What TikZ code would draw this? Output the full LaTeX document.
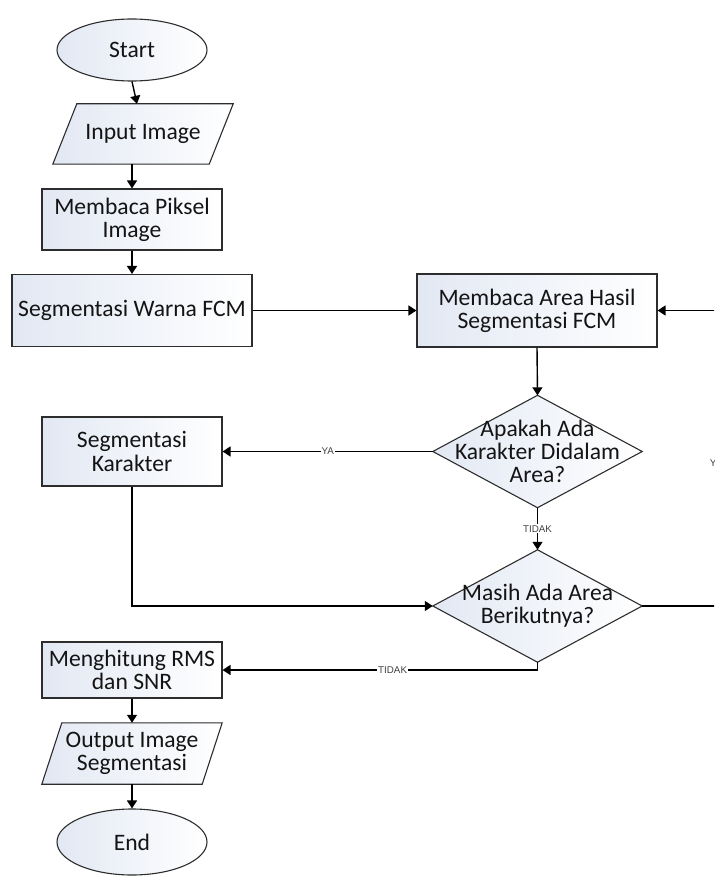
\documentclass[tikz,border=0pt]{standalone}
\usepackage{fontspec}
\setmainfont{Carlito}
\newfontfamily\lblfont{Liberation Sans}
\usetikzlibrary{arrows.meta,backgrounds,shapes.geometric}
\definecolor{fillc}{RGB}{226,232,243}
\definecolor{boxc}{RGB}{45,45,45}
\begin{document}
\begin{tikzpicture}[x=1pt,y=-1pt,
  txt/.style={align=center, font=\fontsize{23.6}{23.3}\selectfont, text=black!92, inner sep=0pt},
  shp/.style={draw=boxc, line width=1.1pt, left color=fillc, right color=white},
  proc/.style={txt, shp, rectangle},
  term/.style={txt, shp, ellipse},
  ghost/.style={txt, rectangle},
  arr/.style={line width=1.4pt, -{Triangle[length=8pt,width=10pt]}},
  lbl/.style={font=\lblfont\fontsize{9.8}{10}\selectfont, text=black!75, fill=white, inner sep=1pt}]
\useasboundingbox (0,0) rectangle (714,877);
\clip (0,0) rectangle (714,877);

% nodes
\node[term, minimum width=150pt, minimum height=62pt] (start) at (132,50) {Start};
\node[ghost, minimum width=156pt, minimum height=60pt] (inp) at (143,134) {Input Image};
\node[proc, minimum width=180pt, minimum height=61pt] (pix) at (132,219.5) {Membaca Piksel\\Image};
\node[proc, minimum width=240pt, minimum height=72pt] (seg) at (132,310.5) {Segmentasi Warna FCM};
\node[proc, minimum width=240pt, minimum height=73pt] (area) at (537,310.5) {Membaca Area Hasil\\Segmentasi FCM};
\node[ghost, minimum width=209pt, minimum height=112pt] (d1) at (537.5,451.5) {Apakah Ada\\Karakter Didalam\\Area?};
\node[proc, minimum width=180pt, minimum height=69pt] (kar) at (132,451.5) {Segmentasi\\Karakter};
\node[ghost, minimum width=209pt, minimum height=112pt] (d2) at (537.5,606) {Masih Ada Area\\Berikutnya?};
\node[proc, minimum width=180pt, minimum height=56pt] (rms) at (132,670) {Menghitung RMS\\dan SNR};
\node[ghost, minimum width=160pt, minimum height=61pt] (out) at (132,753.5) {Output Image\\Segmentasi};
\node[term, minimum width=150pt, minimum height=66pt] (end) at (132,842) {End};
\coordinate (rt) at (716,310.5);

\begin{scope}[on background layer]
  \path[shp] ([xshift=-12pt]inp.south west) -- ([xshift=-12pt]inp.south east)
     -- ([xshift=12pt]inp.north east) -- ([xshift=12pt]inp.north west) -- cycle;
  \path[shp] ([xshift=-10pt]out.south west) -- ([xshift=-10pt]out.south east)
     -- ([xshift=10pt]out.north east) -- ([xshift=10pt]out.north west) -- cycle;
  \path[shp] (d1.north) -- (d1.east) -- (d1.south) -- (d1.west) -- cycle;
  \path[shp] (d2.north) -- (d2.east) -- (d2.south) -- (d2.west) -- cycle;
\end{scope}

% connectors
\draw[arr] (start.south) -- ([xshift=-6pt]inp.north);
\draw[arr] (inp.south -| pix.north) -- (pix.north);
\draw[arr] (pix.south) -- (seg.north);
\draw[arr] (seg.east) -- (area.west);
\draw[arr] (area.south) -- (d1.north);
\draw[arr] (d1.west) -- node[lbl]{YA} (kar.east);
\draw[arr] (d1.south) -- node[lbl]{TIDAK} (d2.north);
\draw[arr] (kar.south) |- (d2.west);
\draw[arr] (d2.south) |- node[lbl, pos=0.73]{TIDAK} (rms.east);
\draw[arr] (rms.south) -- (out.north);
\draw[arr] (out.south) -- (end.north);
\draw[arr] (d2.east) -| node[lbl, pos=0.742]{YA} (rt) -- (area.east);
\end{tikzpicture}
\end{document}
